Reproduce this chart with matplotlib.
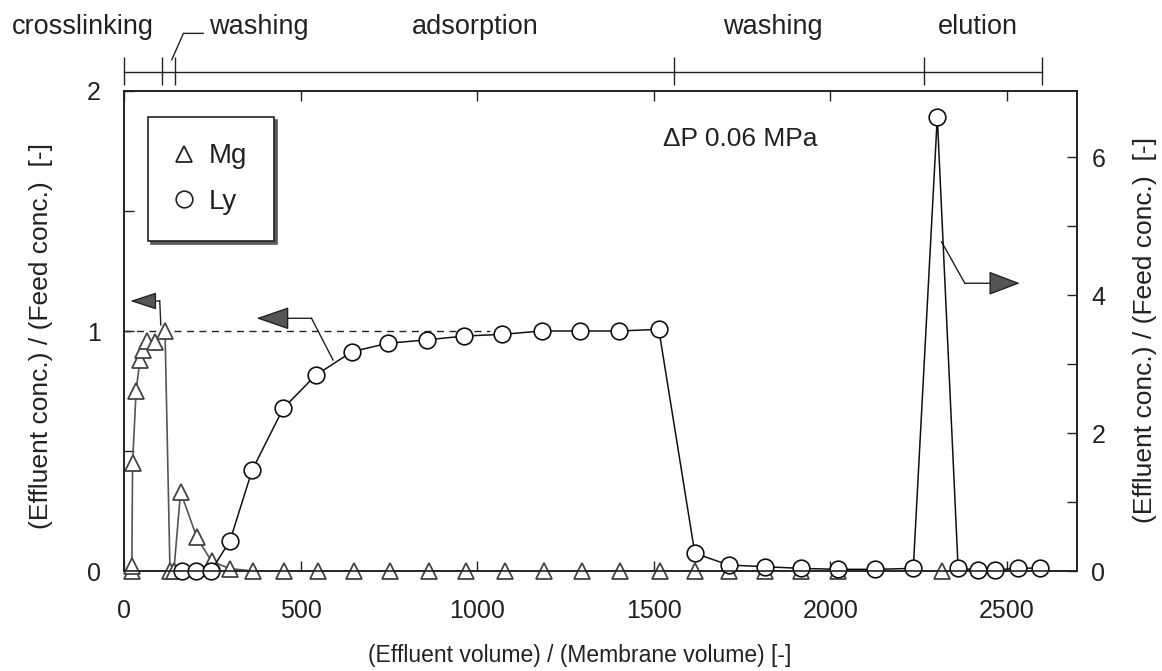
import matplotlib
matplotlib.use('Agg')
import matplotlib.pyplot as plt
import matplotlib.transforms as mtransforms
from matplotlib.lines import Line2D

plt.rcParams['font.family'] = ['Liberation Sans', 'DejaVu Sans']

# Mg (triangles) - left axis
mg_x = [20, 21, 23, 33, 44, 53, 63, 86, 115, 129, 140, 159, 205, 247, 299, 365,
        453, 547, 651, 752, 863, 969, 1078, 1189, 1295, 1404, 1517, 1616, 1713,
        1815, 1918, 2022, 2315]
mg_y = [0.0, 0.02, 0.45, 0.75, 0.88, 0.92, 0.96, 0.955, 1.0, 0.0, 0.0, 0.33, 0.14,
        0.04, 0.01, 0.0, 0.0, 0.0, 0.0, 0.0, 0.0, 0.0, 0.0, 0.0, 0.0, 0.0, 0.0,
        0.0, 0.0, 0.0, 0.0, 0.0, 0.0]

# Ly (circles) - left axis units (elution peak read on the right axis)
ly_x = [162, 203, 245, 299, 362, 450, 542, 645, 747, 856, 963, 1070, 1182, 1290,
        1401, 1514, 1616, 1712, 1814, 1918, 2022, 2127, 2235, 2303, 2362, 2419,
        2466, 2532, 2594]
ly_y = [0.0, 0.0, 0.0, 0.126, 0.421, 0.678, 0.816, 0.914, 0.949, 0.963, 0.979,
        0.986, 1.0, 1.0, 1.0, 1.007, 0.074, 0.025, 0.018, 0.011, 0.007, 0.007,
        0.011, 1.892, 0.012, 0.004, 0.004, 0.012, 0.012]

# operation stages (top bar)
stage_edges = [0, 107, 143, 1557, 2266, 2601]
stage_names = ['crosslinking', 'washing', 'adsorption', 'washing', 'elution']
stage_label_x = [-118, 239, 993, 1837, 2418]

feed_level = 1.0
feed_end = 1035
dp_text = '\u0394P 0.06 MPa'

x_ticks = [0, 500, 1000, 1500, 2000, 2500]
left_ticks = [0, 1, 2]
right_ticks = [0, 2, 4, 6]

ink = '#222222'

fig = plt.figure(figsize=(11.62, 6.71), dpi=100)
ax = fig.add_axes([0.1071, 0.149, 0.8201, 0.7154])
ax2 = ax.twinx()

ax.set_xlim(0, 2700)
ax.set_ylim(0, 2)
ax2.set_ylim(0, 6.96)

# lines + markers
ax.plot(mg_x, mg_y, color='#555555', lw=1.2, marker='^', ms=11, mfc='white',
        mec='#444444', mew=1.3, clip_on=False, zorder=3)
ax.plot(ly_x, ly_y, color='#111111', lw=1.1, marker='o', ms=12, mfc='white',
        mec='#111111', mew=1.2, clip_on=False, zorder=4)
ax.plot([0, feed_end], [feed_level, feed_level], ls=(0, (5, 4)), color=ink, lw=1.0, zorder=2)

# arrows
head_fc = '#555555'
ax.plot([103, 100], [1.025, 1.125], color=ink, lw=1.0)
ax.annotate('', xy=(16, 1.125), xytext=(100, 1.125), annotation_clip=False,
            arrowprops=dict(arrowstyle='-|>,head_length=1.66,head_width=0.54',
                            mutation_scale=10, fc=head_fc, ec=ink, lw=1.0,
                            shrinkA=0, shrinkB=0))
ax.plot([591, 530], [0.879, 1.053], color=ink, lw=1.0)
ax.annotate('', xy=(374, 1.053), xytext=(530, 1.053),
            arrowprops=dict(arrowstyle='-|>,head_length=2.09,head_width=0.72',
                            mutation_scale=10, fc=head_fc, ec=ink, lw=1.0,
                            shrinkA=0, shrinkB=0))
ax.plot([2315, 2381], [1.372, 1.199], color=ink, lw=1.0)
ax.annotate('', xy=(2537, 1.199), xytext=(2381, 1.199),
            arrowprops=dict(arrowstyle='-|>,head_length=2.0,head_width=0.76',
                            mutation_scale=10, fc=head_fc, ec=ink, lw=1.0,
                            shrinkA=0, shrinkB=0))

ax.text(1525, 1.80, dp_text, fontsize=19, color=ink, ha='left', va='center')

# legend
handles = [Line2D([], [], ls='none', marker='^', ms=11, mfc='white', mec=ink, mew=1.3),
           Line2D([], [], ls='none', marker='o', ms=12, mfc='white', mec=ink, mew=1.2)]
leg = ax.legend(handles, ['Mg', 'Ly'], loc='upper left', bbox_to_anchor=(0.0247, 0.946),
                borderaxespad=0, fontsize=20, frameon=True, fancybox=False, framealpha=1,
                edgecolor=ink, shadow={'color': '0.35', 'alpha': 1.0},
                handlelength=0.7, handletextpad=0.55, borderpad=0.95, labelspacing=0.7)
leg.get_frame().set_linewidth(1.2)
for t in leg.get_texts():
    t.set_color(ink)

# stage bar above the axes
trans = mtransforms.blended_transform_factory(ax.transData, ax.transAxes)
ax.plot([stage_edges[0], stage_edges[-1]], [1.040, 1.040], transform=trans,
        clip_on=False, color=ink, lw=1.0)
ax.vlines(stage_edges, 1.0125, 1.071, transform=trans, clip_on=False, color=ink, lw=1.0)
for i, (name, lx) in enumerate(zip(stage_names, stage_label_x)):
    ha = 'left' if i == 1 else 'center'
    ax.text(lx, 1.133, name, transform=trans, ha=ha, va='center', fontsize=19.5,
            color=ink, clip_on=False)
ax.plot([134, 167, 223], [1.065, 1.120, 1.120], transform=trans, clip_on=False,
        color=ink, lw=1.0)

# ticks
ax.set_xticks(x_ticks)
ax.set_yticks(left_ticks)
ax.set_yticks([0.5, 1.5], minor=True)
ax.tick_params(axis='x', direction='in', top=True, labeltop=False, length=7, width=1,
               labelsize=18, pad=20, colors=ink)
ax.tick_params(axis='y', which='both', direction='in', length=7, width=1,
               labelsize=18, pad=17, colors=ink)
ax2.set_yticks(right_ticks)
ax2.set_yticks([1, 3, 5], minor=True)
ax2.tick_params(axis='y', which='both', direction='in', length=7, width=1,
                labelsize=18, pad=10, colors=ink)
for a in (ax, ax2):
    for s in a.spines.values():
        s.set_linewidth(1.2)
        s.set_color(ink)

ax.set_xlabel('(Effluent volume) / (Membrane volume) [-]', fontsize=16.5, color=ink)
ax.xaxis.set_label_coords(0.478, -0.152)
ax.set_ylabel('(Effluent conc.) / (Feed conc.)  [-]', fontsize=19, color=ink)
ax.yaxis.set_label_coords(-0.075, 0.49)
ax2.set_ylabel('(Effluent conc.) / (Feed conc.)  [-]', fontsize=19, color=ink)
ax2.yaxis.set_label_coords(1.058, 0.502)

fig.savefig('out.png', dpi=100)
